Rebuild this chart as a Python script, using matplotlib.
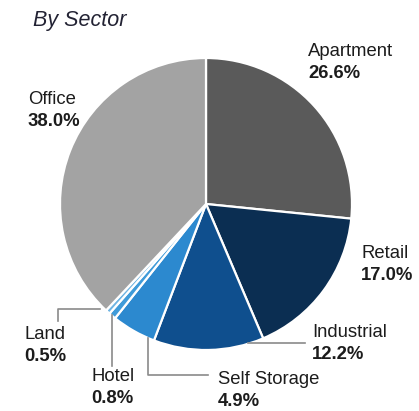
import numpy as np
import matplotlib
matplotlib.use("Agg")
import matplotlib.pyplot as plt

plt.rcParams['font.family'] = ['Liberation Sans', 'DejaVu Sans']

sectors = ['Apartment', 'Retail', 'Industrial', 'Self Storage', 'Hotel', 'Land', 'Office']
shares = [26.6, 17.0, 12.2, 4.9, 0.8, 0.5, 38.0]
colors = ['#5a5a5a', '#0b2e52', '#0f4f8e', '#2c89cf', '#3f9bd9', '#6fb4e2', '#a3a3a3']

W, H = 419, 411
fig = plt.figure(figsize=(W / 100, H / 100), dpi=100)
ax = fig.add_axes([0, 0, 1, 1])

cx, cy, r = 206, H - 204, 146
ax.pie(shares, colors=colors, startangle=90, counterclock=False,
       radius=r, center=(cx, cy), frame=True,
       wedgeprops=dict(edgecolor='white', linewidth=1.6))
ax.set_xlim(0, W)
ax.set_ylim(0, H)
ax.set_aspect('equal')
ax.axis('off')

# label positions (x, name baseline) in image pixels
label_pos = [(308, 56), (361, 258), (312, 337), (218, 384), (91, 381), (24, 339), (28, 104)]
txt = '#1c1c1c'
for name, val, (x, yb) in zip(sectors, shares, label_pos):
    ax.text(x, H - yb, name, fontsize=13.3, color=txt, va='baseline', ha='left')
    ax.text(x, H - yb - 22, '{:.1f}%'.format(val), fontsize=13.3, color=txt,
            fontweight='bold', va='baseline', ha='left')

# leader lines
lc = '#8a8a8a'
ax.plot([100, 58, 58], [H - 309, H - 309, H - 321], color=lc, lw=1.2)
ax.plot([112, 112], [H - 315, H - 366], color=lc, lw=1.2)
ax.plot([148, 148, 208], [H - 338, H - 375, H - 375], color=lc, lw=1.2)
ax.plot([248, 305], [H - 343, H - 343], color=lc, lw=1.2)

ax.text(33, H - 26, 'By Sector', fontsize=15.5, style='italic', color='#222233',
        va='baseline', ha='left')

fig.savefig('out.png', dpi=100)
